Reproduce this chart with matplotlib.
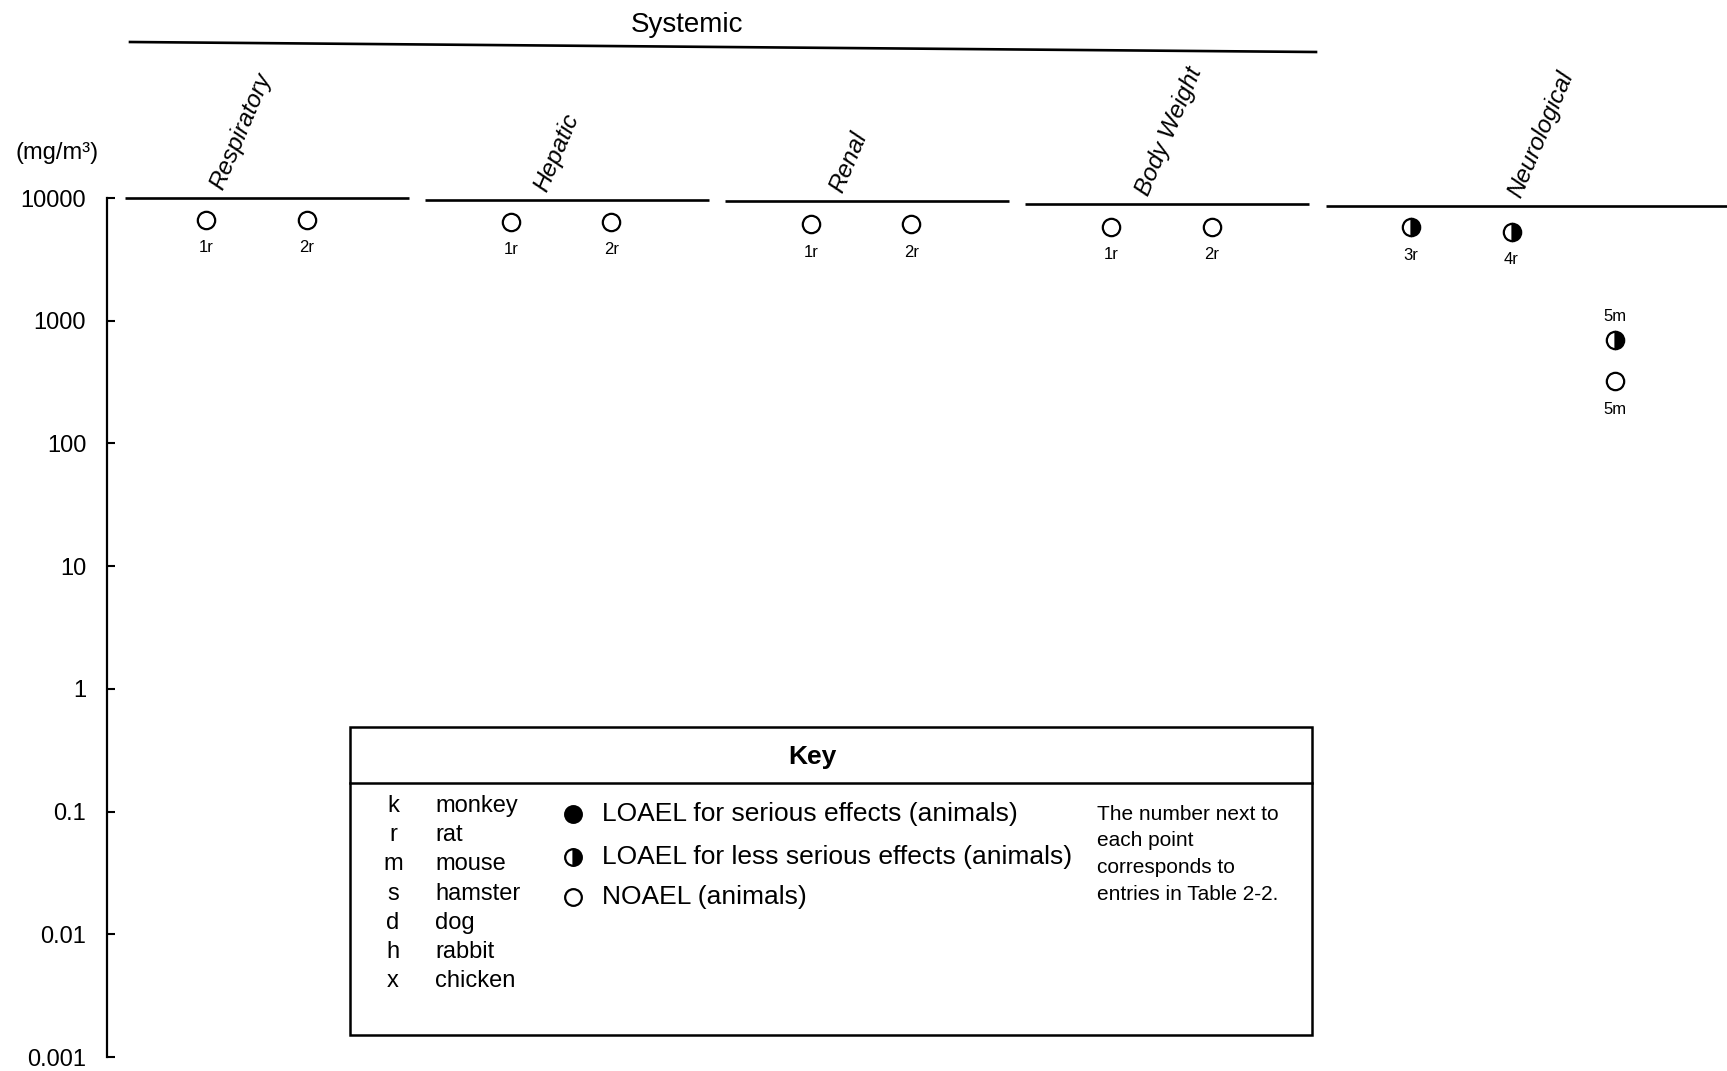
import matplotlib
matplotlib.use('Agg')
import matplotlib.pyplot as plt
from matplotlib.lines import Line2D
from matplotlib.patches import Rectangle

plt.rcParams['font.family'] = ['Liberation Sans', 'DejaVu Sans']

# endpoint categories (all under "Systemic" except Neurological)
categories = ['Respiratory', 'Hepatic', 'Renal', 'Body Weight', 'Neurological']
header_y = [10000, 9700, 9400, 9000, 8600]   # header rule under each category name

# points: category index, slot, value (mg/m3), label, kind
pt_cat = [0, 0, 1, 1, 2, 2, 3, 3, 4, 4, 4, 4]
pt_slot = [0, 1, 0, 1, 0, 1, 0, 1, 0, 1, 2, 2]
pt_val = [6600, 6600, 6350, 6350, 6100, 6100, 5850, 5850, 5750, 5300, 690, 320]
pt_lab = ['1r', '2r', '1r', '2r', '1r', '2r', '1r', '2r', '3r', '4r', '5m', '5m']
pt_kind = ['noael', 'noael', 'noael', 'noael', 'noael', 'noael', 'noael', 'noael',
           'less', 'less', 'less', 'noael']

yticks = [0.001, 0.01, 0.1, 1, 10, 100, 1000, 10000]
ytick_labels = ['0.001', '0.01', '0.1', '1', '10', '100', '1000', '10000']

species_code = ['k', 'r', 'm', 's', 'd', 'h', 'x']
species_name = ['monkey', 'rat', 'mouse', 'hamster', 'dog', 'rabbit', 'chicken']
legend_text = ['LOAEL for serious effects (animals)',
               'LOAEL for less serious effects (animals)',
               'NOAEL (animals)']
note_text = 'The number next to\neach point\ncorresponds to\nentries in Table 2-2.'

W, H = 1727, 1071
fig = plt.figure(figsize=(W / 100, H / 100), dpi=100)


def fx(x):
    return x / W


def fy(y):
    return 1 - y / H


ax = fig.add_axes([fx(107), fy(1057), fx(1727 - 107), (1057 - 198) / H])
ax.set_yscale('log')
ax.set_ylim(0.001, 10000)
ax.set_xlim(-0.066, 5.333)
for s in ['top', 'right', 'bottom']:
    ax.spines[s].set_visible(False)
ax.spines['left'].set_linewidth(1.6)
ax.set_xticks([])
ax.set_yticks(yticks)
ax.set_yticklabels(ytick_labels)
ax.yaxis.set_minor_locator(matplotlib.ticker.NullLocator())
ax.tick_params(axis='y', direction='in', length=6, width=1.5, pad=15, labelsize=17)
ax.get_yticklabels()[0].set_va('center_baseline')

slot_off = [0.28, 0.615, 0.96]
cat_shift = [-0.015, 0, 0, 0, 0]
label_off = [0.32, 0.40, 0.385, 0.405, 0.645]

# header rules and rotated category names
for i, name in enumerate(categories):
    x1 = i + 0.94 if i < len(categories) - 1 else 5.333
    ax.plot([i - 0.005, x1], [header_y[i], header_y[i]], color='black', lw=1.9,
            clip_on=False, solid_capstyle='butt')
    ax.annotate(name, xy=(i + label_off[i], header_y[i]), xytext=(0, 5),
                textcoords='offset points', rotation=67, rotation_mode='anchor',
                ha='left', va='baseline', fontsize=17.5, style='italic',
                annotation_clip=False)

# points
for c, s, v, lab, kind in zip(pt_cat, pt_slot, pt_val, pt_lab, pt_kind):
    x = c + slot_off[s] + cat_shift[c]
    if kind == 'noael':
        ax.plot(x, v, 'o', ms=12.5, mfc='white', mec='black', mew=1.6, clip_on=False)
    else:
        ax.plot(x, v, 'o', ms=12.5, fillstyle='right', mfc='black', mfcalt='white',
                mec='black', mew=1.6, clip_on=False)
    dy = 17 if (kind == 'less' and lab == '5m') else -20
    ax.annotate(lab, xy=(x, v), xytext=(0, dy), textcoords='offset points',
                ha='center', va='center', fontsize=12)

# Systemic group heading
fig.add_artist(Line2D([fx(130), fx(1316)], [fy(42), fy(52)], color='black', lw=1.9))
fig.text(fx(687), fy(25), 'Systemic', ha='center', va='center', fontsize=20)
fig.text(fx(57), fy(153), '(mg/m³)', ha='center', va='center', fontsize=17)

# Key box
fig.add_artist(Rectangle((fx(350), fy(1035)), fx(1312 - 350), (1035 - 727) / H,
                         fill=False, ec='black', lw=1.8))
fig.add_artist(Line2D([fx(350), fx(1312)], [fy(783), fy(783)], color='black', lw=1.8))
fig.text(fx(812), fy(757), 'Key', ha='center', va='center', fontsize=19,
         fontweight='bold')

for j, (code, nm) in enumerate(zip(species_code, species_name)):
    yy = fy(806 + j * 29.2)
    fig.text(fx(393), yy, code, ha='center', va='center', fontsize=17)
    fig.text(fx(435), yy, nm, ha='left', va='center', fontsize=17)

leg_y = [814, 857, 897]
for j, txt in enumerate(legend_text):
    yy = fy(leg_y[j])
    if j == 0:
        fig.add_artist(Line2D([fx(573)], [yy], marker='o', ms=12, mfc='black',
                              mec='black', mew=1.6, ls='none'))
    elif j == 1:
        fig.add_artist(Line2D([fx(573)], [yy], marker='o', ms=12, fillstyle='right',
                              mfc='black', mfcalt='white', mec='black', mew=1.6,
                              ls='none'))
    else:
        fig.add_artist(Line2D([fx(573)], [yy], marker='o', ms=12, mfc='white',
                              mec='black', mew=1.6, ls='none'))
    fig.text(fx(602), yy, txt, ha='left', va='center', fontsize=19)

fig.text(fx(1097), fy(805), note_text, ha='left', va='top', fontsize=15,
         linespacing=1.5)

plt.savefig('out.png', dpi=100)
